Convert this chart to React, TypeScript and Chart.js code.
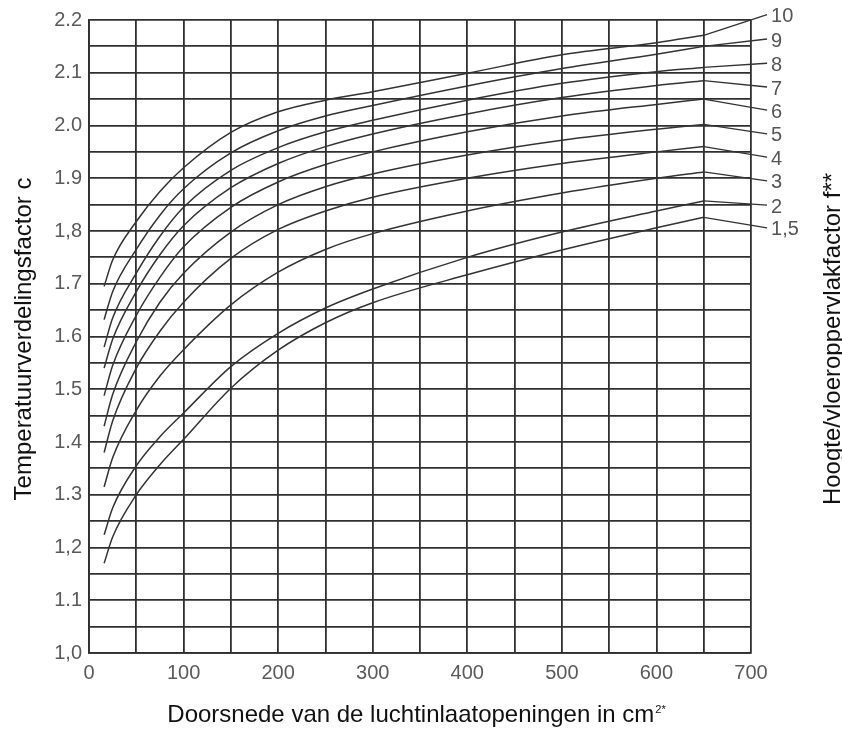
import React, { useEffect, useRef } from 'react';
import { Chart, registerables } from 'chart.js';

Chart.register(...registerables);

// Doorsnede (cm²) sample positions along every curve
const xValues = [16, 25, 50, 75, 100, 150, 200, 250, 300, 400, 500, 600, 650];

// Temperatuurverdelingsfactor c per hoogte/vloeroppervlakfactor f
const curve10 = [1.695, 1.745, 1.818, 1.875, 1.92, 1.987, 2.026, 2.048, 2.064, 2.099, 2.134, 2.157, 2.171];
const curve9 = [1.632, 1.685, 1.765, 1.83, 1.88, 1.948, 1.99, 2.018, 2.038, 2.075, 2.108, 2.135, 2.15];
const curve8 = [1.58, 1.635, 1.72, 1.79, 1.845, 1.915, 1.958, 1.988, 2.01, 2.048, 2.08, 2.102, 2.11];
const curve7 = [1.54, 1.595, 1.685, 1.755, 1.81, 1.882, 1.928, 1.96, 1.984, 2.022, 2.053, 2.076, 2.085];
const curve6 = [1.488, 1.545, 1.64, 1.712, 1.77, 1.845, 1.893, 1.926, 1.95, 1.988, 2.018, 2.04, 2.05];
const curve5 = [1.43, 1.49, 1.59, 1.665, 1.72, 1.798, 1.85, 1.884, 1.908, 1.944, 1.972, 1.993, 2.002];
const curve4 = [1.38, 1.44, 1.54, 1.61, 1.665, 1.748, 1.803, 1.838, 1.864, 1.9, 1.928, 1.95, 1.96];
const curve3 = [1.315, 1.37, 1.46, 1.525, 1.575, 1.66, 1.722, 1.765, 1.795, 1.838, 1.872, 1.9, 1.912];
const curve2 = [1.224, 1.275, 1.355, 1.41, 1.455, 1.543, 1.606, 1.654, 1.69, 1.75, 1.798, 1.838, 1.857];
const curve15 = [1.17, 1.22, 1.3, 1.357, 1.405, 1.502, 1.574, 1.626, 1.664, 1.717, 1.764, 1.806, 1.826];

const curveSeries = [curve10, curve9, curve8, curve7, curve6, curve5, curve4, curve3, curve2, curve15];
const curveNames = ['10', '9', '8', '7', '6', '5', '4', '3', '2', '1,5'];

// leader lines from the last curve point to the label column
const leaderX = 717;
const leaderValues = [2.21, 2.164, 2.118, 2.073, 2.029, 1.984, 1.94, 1.895, 1.849, 1.806];

const xTickLabels = ['0', '100', '200', '300', '400', '500', '600', '700'];
const yTickLabels = ['1,0', '1.1', '1,2', '1.3', '1.4', '1.5', '1.6', '1.7', '1,8', '1.9', '2.0', '2.1', '2.2'];

const xTitle = 'Doorsnede van de luchtinlaatopeningen in cm';
const xTitleSup = '2*';
const yTitle = 'Temperatuurverdelingsfactor c';
const rightTitle = 'Hoogte/vloeroppervlakfactor f**';

const FONT = '"Liberation Sans", Arial, Helvetica, sans-serif';
const LINE = '#333333';
const GRID = '#303030';

const textPlugin = {
  id: 'textPlugin',
  afterDraw(chart: any) {
    const ctx = chart.ctx;
    const xs = chart.scales.x;
    const ys = chart.scales.y;
    ctx.save();
    // curve labels
    ctx.fillStyle = '#555';
    ctx.font = `20px ${FONT}`;
    ctx.textAlign = 'left';
    ctx.textBaseline = 'middle';
    curveNames.forEach((name, i) => {
      const px = xs.getPixelForValue(leaderX);
      const py = ys.getPixelForValue(leaderValues[i]);
      ctx.fillText(name, px + 4, py + 2);
    });
    // y title
    ctx.fillStyle = '#111';
    ctx.font = `24px ${FONT}`;
    ctx.save();
    ctx.translate(31, 339);
    ctx.rotate(-Math.PI / 2);
    ctx.textAlign = 'center';
    ctx.textBaseline = 'alphabetic';
    ctx.fillText(yTitle, 0, 0);
    ctx.restore();
    // right title
    ctx.save();
    ctx.translate(840, 339);
    ctx.rotate(-Math.PI / 2);
    ctx.textAlign = 'center';
    ctx.textBaseline = 'alphabetic';
    ctx.fillText(rightTitle, 0, 0);
    ctx.restore();
    // x title with superscript
    ctx.font = `24px ${FONT}`;
    const w1 = ctx.measureText(xTitle).width;
    ctx.font = `11px ${FONT}`;
    const w2 = ctx.measureText(xTitleSup).width;
    const start = 416 - (w1 + w2) / 2;
    ctx.textAlign = 'left';
    ctx.textBaseline = 'alphabetic';
    ctx.font = `24px ${FONT}`;
    ctx.fillText(xTitle, start, 722);
    ctx.font = `11px ${FONT}`;
    ctx.fillText(xTitleSup, start + w1 + 1, 713);
    ctx.restore();
  },
};

export default function App() {
  const ref = useRef<HTMLCanvasElement | null>(null);

  useEffect(() => {
    if (!ref.current) return;
    const datasets: any[] = [];
    curveSeries.forEach((series, i) => {
      datasets.push({
        label: 'f = ' + curveNames[i],
        data: xValues.map((x, j) => ({ x, y: series[j] })),
        borderColor: LINE,
        borderWidth: 1.5,
        pointRadius: 0,
        cubicInterpolationMode: 'monotone',
        fill: false,
        clip: false,
      });
      datasets.push({
        label: 'leader ' + curveNames[i],
        data: [
          { x: xValues[xValues.length - 1], y: series[series.length - 1] },
          { x: leaderX, y: leaderValues[i] },
        ],
        borderColor: LINE,
        borderWidth: 1.3,
        pointRadius: 0,
        tension: 0,
        fill: false,
        clip: false,
      });
    });

    const chart = new Chart(ref.current, {
      type: 'line',
      data: { datasets },
      plugins: [textPlugin],
      options: {
        responsive: false,
        animation: false,
        layout: { padding: { left: 0, top: 20, right: 91, bottom: 0 } },
        plugins: { legend: { display: false }, tooltip: { enabled: false } },
        scales: {
          x: {
            type: 'linear',
            min: 0,
            max: 700,
            afterFit: (s: any) => { s.height = 76; },
            grid: { color: GRID, lineWidth: 1.8, drawTicks: false },
            border: { color: GRID, width: 1.8 },
            ticks: {
              stepSize: 50,
              autoSkip: false,
              maxRotation: 0,
              padding: 8,
              color: '#5a5a5a',
              font: { family: FONT, size: 20 },
              callback: (v: any) => {
                const n = Number(v);
                if (Math.round(n) % 100 !== 0) return '';
                return xTickLabels[Math.round(n / 100)];
              },
            },
          },
          y: {
            type: 'linear',
            min: 1.0,
            max: 2.2,
            afterFit: (s: any) => { s.width = 89; },
            grid: { color: GRID, lineWidth: 1.8, drawTicks: false },
            border: { color: GRID, width: 1.8 },
            ticks: {
              stepSize: 0.05,
              autoSkip: false,
              padding: 7,
              color: '#5a5a5a',
              font: { family: FONT, size: 20 },
              callback: (v: any) => {
                const k = Math.round(Number(v) * 100);
                if (k % 10 !== 0) return '';
                return yTickLabels[Math.round((k - 100) / 10)];
              },
            },
          },
        },
      },
    });
    return () => chart.destroy();
  }, []);

  return (
    <div style={{ position: 'fixed', left: 0, top: 0, width: 842, height: 729, background: '#fff' }}>
      <canvas ref={ref} width={842} height={729} style={{ display: 'block' }} />
    </div>
  );
}
